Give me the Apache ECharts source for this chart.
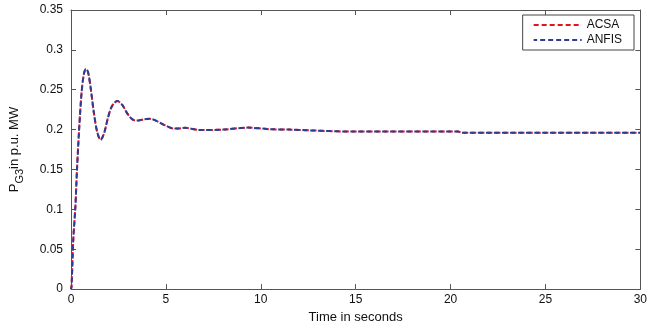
<!DOCTYPE html>
<html>
<head>
<meta charset="utf-8">
<script src="https://cdn.jsdelivr.net/npm/echarts@6/dist/echarts.min.js"></script>
<style>
  html, body { margin: 0; padding: 0; background: #fff; }
  #chart { width: 650px; height: 329px; }
</style>
</head>
<body>
<div id="chart"></div>
<script>
// time samples (s) and generator power response (p.u. MW)
var timeS = [0, 0.03, 0.12, 0.23, 0.32, 0.44, 0.56, 0.68, 0.79, 0.9, 1.05, 1.2, 1.38, 1.56, 1.75, 1.95, 2.15, 2.44, 2.7, 3.0, 3.3, 3.55, 3.85, 4.16, 4.5, 4.9, 5.4, 5.7, 6.0, 6.8, 8.0, 9.3, 10.5, 11.5, 12.6, 15, 20.4, 20.6, 25, 30];
var acsa = [0, 0.004, 0.062, 0.103, 0.152, 0.205, 0.247, 0.27, 0.276, 0.272, 0.25, 0.222, 0.197, 0.187, 0.196, 0.215, 0.229, 0.236, 0.231, 0.219, 0.212, 0.2115, 0.213, 0.2135, 0.211, 0.206, 0.2015, 0.2015, 0.2022, 0.1995, 0.2, 0.2025, 0.2005, 0.2, 0.199, 0.1975, 0.1975, 0.196, 0.196, 0.196];
var anfis = [0, 0.004, 0.062, 0.103, 0.152, 0.205, 0.247, 0.27, 0.276, 0.272, 0.25, 0.222, 0.197, 0.187, 0.196, 0.215, 0.229, 0.236, 0.231, 0.219, 0.212, 0.2115, 0.213, 0.2135, 0.211, 0.206, 0.2015, 0.2015, 0.2022, 0.1995, 0.2, 0.2025, 0.2005, 0.2, 0.199, 0.1975, 0.1975, 0.196, 0.196, 0.196];

function pairs(xs, ys) {
    return xs.map(function (x, i) { return [x, ys[i]]; });
}

var font = 'Liberation Sans, Arial, sans-serif';
var axisCol = '#555';

function frameAxis(extra) {
    var a = {
        type: 'value',
        axisLine: { show: true, onZero: false, lineStyle: { color: axisCol } },
        axisTick: { show: true, inside: true, length: 5, lineStyle: { color: axisCol } },
        axisLabel: { show: false },
        splitLine: { show: false }
    };
    for (var k in extra) a[k] = extra[k];
    return a;
}

var myChart = echarts.init(document.getElementById('chart'));
var option = {
    animation: false,
    textStyle: { fontFamily: font },
    grid: { left: 71, right: 9, top: 10, bottom: 36 },
    legend: {
        right: 16, top: 15,
        orient: 'vertical',
        backgroundColor: '#fff',
        borderColor: '#444', borderWidth: 1,
        padding: [4, 12, 4, 10],
        itemGap: 3,
        itemWidth: 48, itemHeight: 12,
        itemStyle: { opacity: 0 },
        textStyle: { fontFamily: font, fontSize: 12, color: '#111' },
        data: ['ACSA', 'ANFIS']
    },
    xAxis: [frameAxis({
        min: 0, max: 30, interval: 5,
        name: 'Time in seconds', nameLocation: 'middle', nameGap: 19,
        nameTextStyle: { fontFamily: font, fontSize: 13, color: '#111' },
        axisLabel: { show: true, fontSize: 12, color: '#111', margin: 5 }
    }), frameAxis({ position: 'top', min: 0, max: 30, interval: 5 })],
    yAxis: [frameAxis({
        min: 0, max: 0.35, interval: 0.05,
        name: '{a|P}{b|G3}{a|in p.u. MW}',
        nameLocation: 'middle', nameGap: 46, nameRotate: 90,
        nameTextStyle: {
            rich: {
                a: { fontFamily: font, fontSize: 13, color: '#111' },
                b: { fontFamily: font, fontSize: 11, color: '#111', padding: [10, 0, 0, 0] }
            }
        },
        axisLabel: { show: true, fontSize: 12, color: '#111', margin: 8 }
    }), frameAxis({ position: 'right', min: 0, max: 0.35, interval: 0.05 })],
    series: [{
        name: 'ACSA', type: 'line', smooth: 0.3, symbol: 'none',
        data: pairs(timeS, acsa),
        lineStyle: { color: '#e3141b', width: 2, type: [5, 3] },
        itemStyle: { color: '#e3141b' }
    }, {
        name: 'ANFIS', type: 'line', smooth: 0.3, symbol: 'none',
        data: pairs(timeS, anfis),
        lineStyle: { color: '#2e3c94', width: 2, type: [5, 3], dashOffset: 1.5 },
        itemStyle: { color: '#2e3c94' }
    }]
};
myChart.setOption(option);
window.onresize = myChart.resize;
</script>
</body>
</html>
